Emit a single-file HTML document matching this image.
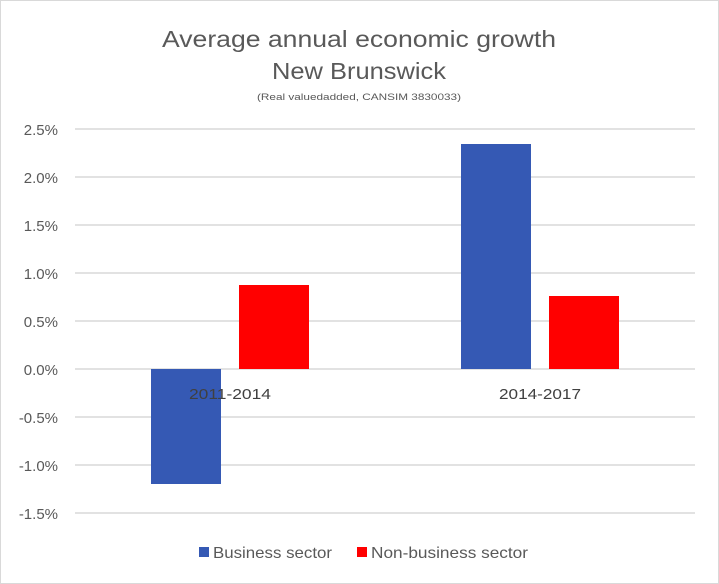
<!DOCTYPE html>
<html><head><style>
html,body{margin:0;padding:0;background:#fff;}
svg{display:block;font-family:"Liberation Sans",sans-serif;}
</style></head><body>
<svg width="719" height="584" viewBox="0 0 719 584">
<rect x="0.5" y="0.5" width="718" height="583" fill="#fff" stroke="#d9d9d9"/>
<text x="359" y="47" font-size="23" fill="#595959" text-anchor="middle" textLength="394" lengthAdjust="spacingAndGlyphs">Average annual economic growth</text>
<text x="359" y="79" font-size="23" fill="#595959" text-anchor="middle" textLength="174" lengthAdjust="spacingAndGlyphs">New Brunswick</text>
<text x="359" y="100" font-size="9" fill="#595959" text-anchor="middle" textLength="204" lengthAdjust="spacingAndGlyphs">(Real valuedadded, CANSIM 3830033)</text>
<g stroke="#d9d9d9" stroke-width="1.5">
<line x1="75" x2="695" y1="129" y2="129"/>
<line x1="75" x2="695" y1="177" y2="177"/>
<line x1="75" x2="695" y1="225" y2="225"/>
<line x1="75" x2="695" y1="273" y2="273"/>
<line x1="75" x2="695" y1="321" y2="321"/>
<line x1="75" x2="695" y1="369" y2="369"/>
<line x1="75" x2="695" y1="417" y2="417"/>
<line x1="75" x2="695" y1="465" y2="465"/>
<line x1="75" x2="695" y1="513" y2="513"/>
</g>
<g font-size="15" fill="#595959" text-anchor="end">
<text x="58" y="135">2.5%</text>
<text x="58" y="183">2.0%</text>
<text x="58" y="231">1.5%</text>
<text x="58" y="279">1.0%</text>
<text x="58" y="327">0.5%</text>
<text x="58" y="375">0.0%</text>
<text x="58" y="423">-0.5%</text>
<text x="58" y="471">-1.0%</text>
<text x="58" y="519">-1.5%</text>
</g>
<rect x="151" y="369" width="70" height="115" fill="#3559b4"/>
<rect x="239" y="285" width="70" height="84" fill="#ff0000"/>
<rect x="461" y="144" width="70" height="225" fill="#3559b4"/>
<rect x="549" y="296" width="70" height="73" fill="#ff0000"/>
<g font-size="15" fill="#404040" text-anchor="middle">
<text x="230" y="399" textLength="82" lengthAdjust="spacingAndGlyphs">2011-2014</text>
<text x="540" y="399" textLength="82" lengthAdjust="spacingAndGlyphs">2014-2017</text>
</g>
<rect x="199" y="547" width="10" height="10" fill="#3559b4"/>
<text x="213" y="558" font-size="16" fill="#595959" textLength="119" lengthAdjust="spacingAndGlyphs">Business sector</text>
<rect x="357" y="547" width="10" height="10" fill="#ff0000"/>
<text x="371" y="558" font-size="16" fill="#595959" textLength="157" lengthAdjust="spacingAndGlyphs">Non-business sector</text>
</svg>
</body></html>
